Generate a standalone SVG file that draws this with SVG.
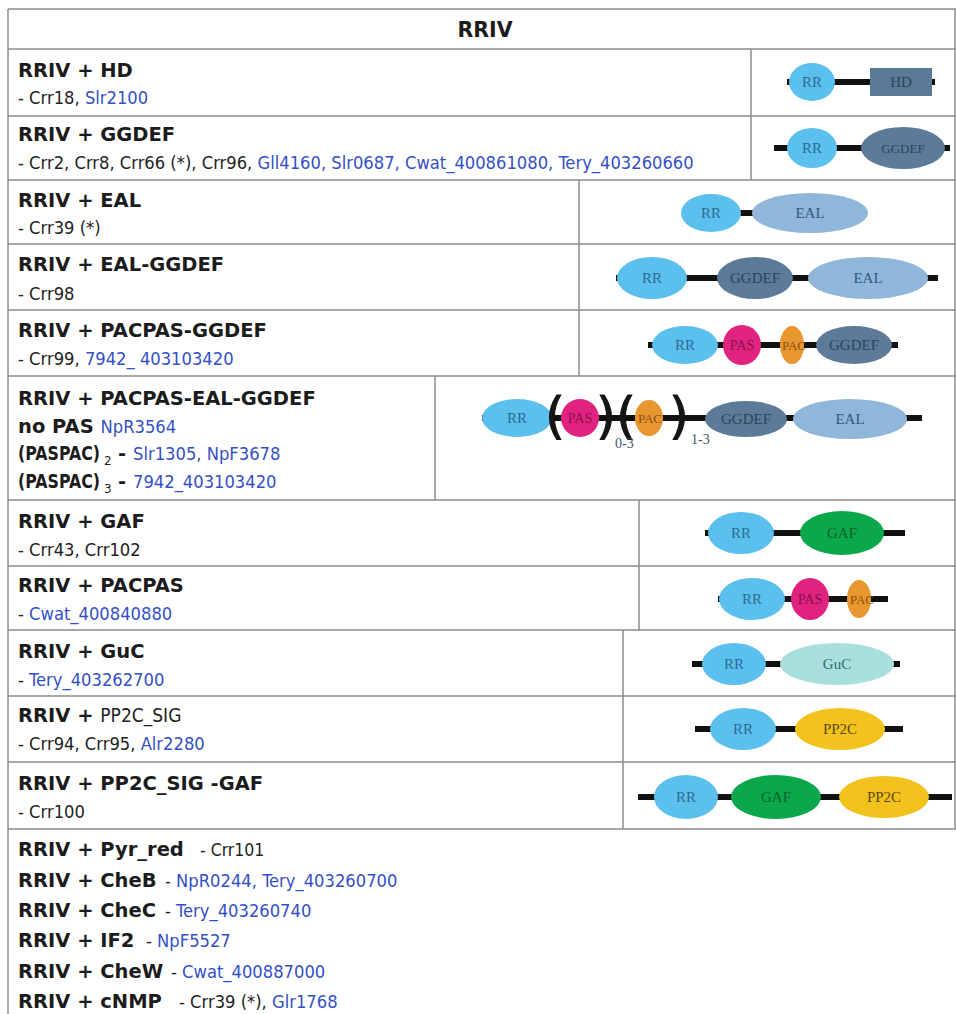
<svg xmlns="http://www.w3.org/2000/svg" width="956" height="1014" viewBox="0 0 956 1014">
<style>
.grid{stroke:#8c8c8c;stroke-width:1.5;fill:none}
.t{font-family:'DejaVu Sans',sans-serif;font-weight:bold;font-size:19.5px;fill:#1c1c1c}
.s{font-family:'DejaVu Sans Condensed','DejaVu Sans',sans-serif;font-stretch:condensed;font-size:18.2px;fill:#222;font-weight:normal}
.b{fill:#3450c6}
.bb{stroke:#111;stroke-width:6}
.d{font-family:'Liberation Serif',serif;font-size:15px;text-anchor:middle}
.rr{fill:#5cc0ee}.rrt{fill:#2a6d93}
.gg{fill:#5d7b98}.ggt{fill:#2a4460}
.ea{fill:#90b6da}.eat{fill:#2f5a7e}
.pas{fill:#e0237f}.past{fill:#8a1050}
.pac{fill:#e8962f}.pact{fill:#8a5010}
.gaf{fill:#0ba84b}.gaft{fill:#0b5f2e}
.guc{fill:#a9dfdc}.guct{fill:#2f6f78}
.pp{fill:#f4c21d}.ppt{fill:#5a4a10}
.par{font-family:'DejaVu Sans',sans-serif;font-size:50px;fill:#151515;stroke:#151515;stroke-width:1.2;text-anchor:middle}
.n{font-family:'Liberation Serif',serif;font-size:14px;fill:#3d566e}
.sub{font-family:'DejaVu Sans',sans-serif;font-size:12px;fill:#1c1c1c}
</style>
<rect x="0" y="0" width="956" height="1014" fill="#fff"/>
<g id="table">
<path class="grid" d="M8 9H956M8 9V1014M955 9V829M8 49H956M8 116H956M8 180H956M8 244H956M8 310H956M8 376H956M8 500H956M8 566H956M8 630H956M8 696H956M8 762H956M8 829H956"/>
<path class="grid" d="M751 49V180M579 180V376M435 376V500M639 500V630M623 630V829"/>
</g>
<g id="header"><text class="t" x="485" y="37" text-anchor="middle" style="font-size:20.5px">RRIV</text></g>

<g id="row-hd">
<text class="t" x="18" y="77">RRIV + HD</text>
<text class="s" x="18" y="104">- Crr18, <tspan class="b">Slr2100</tspan></text>
<line class="bb" x1="787" y1="82" x2="935" y2="82"/>
<ellipse class="rr" cx="812" cy="82" rx="23" ry="19"/>
<rect x="870" y="68" width="62" height="28" fill="#5a7a96"/>
<text class="d rrt" x="812" y="87">RR</text>
<text class="d ggt" x="901" y="87">HD</text>
</g>

<g id="row-ggdef">
<text class="t" x="18" y="141">RRIV + GGDEF</text>
<text class="s" x="18" y="169">- Crr2, Crr8, Crr66 (*), Crr96, <tspan class="b">Gll4160, Slr0687, Cwat_400861080, Tery_403260660</tspan></text>
<line class="bb" x1="774" y1="148" x2="950" y2="148"/>
<ellipse class="rr" cx="812" cy="148" rx="25" ry="20"/>
<ellipse class="gg" cx="903" cy="148" rx="42" ry="21"/>
<text class="d rrt" x="812" y="153">RR</text>
<text class="d ggt" x="903" y="153" style="font-size:13px">GGDEF</text>
</g>

<g id="row-eal">
<text class="t" x="18" y="207">RRIV + EAL</text>
<text class="s" x="18" y="234">- Crr39 (*)</text>
<line class="bb" x1="738" y1="213" x2="756" y2="213"/>
<ellipse class="rr" cx="711" cy="213" rx="30" ry="19"/>
<ellipse class="ea" cx="810" cy="213" rx="58" ry="20"/>
<text class="d rrt" x="711" y="218">RR</text>
<text class="d eat" x="810" y="218">EAL</text>
</g>

<g id="row-eal-ggdef">
<text class="t" x="18" y="271">RRIV + EAL-GGDEF</text>
<text class="s" x="18" y="300">- Crr98</text>
<line class="bb" x1="616" y1="278" x2="938" y2="278"/>
<ellipse class="rr" cx="652" cy="278" rx="35" ry="21"/>
<ellipse class="gg" cx="755" cy="278" rx="38" ry="21"/>
<ellipse class="ea" cx="868" cy="278" rx="60" ry="21"/>
<text class="d rrt" x="652" y="283">RR</text>
<text class="d ggt" x="755" y="283">GGDEF</text>
<text class="d eat" x="868" y="283">EAL</text>
</g>

<g id="row-pacpas-ggdef">
<text class="t" x="18" y="337">RRIV + PACPAS-GGDEF</text>
<text class="s" x="18" y="365">- Crr99, <tspan class="b">7942_ 403103420</tspan></text>
<line class="bb" x1="648" y1="345" x2="898" y2="345"/>
<ellipse class="rr" cx="685" cy="345" rx="33" ry="19"/>
<ellipse class="pas" cx="742" cy="345" rx="19" ry="20"/>
<ellipse class="pac" cx="792" cy="345" rx="12" ry="19"/>
<ellipse class="gg" cx="854" cy="345" rx="38" ry="19"/>
<text class="d rrt" x="685" y="350">RR</text>
<text class="d past" x="742" y="350" style="font-size:14px">PAS</text>
<text class="d pact" x="794" y="350" style="font-size:13px">PAC</text>
<text class="d ggt" x="854" y="350">GGDEF</text>
</g>

<g id="row-pacpas-eal-ggdef">
<text class="t" x="18" y="405">RRIV + PACPAS-EAL-GGDEF</text>
<text class="t" x="18" y="433">no PAS <tspan class="s b">NpR3564</tspan></text>
<text class="t" transform="translate(18 460) scale(0.81 1)">(PASPAC)</text>
<text class="sub" x="104" y="465">2</text>
<text class="t" x="118" y="460">-</text>
<text class="s b" x="133" y="460">Slr1305, NpF3678</text>
<text class="t" transform="translate(18 488) scale(0.81 1)">(PASPAC)</text>
<text class="sub" x="104" y="493">3</text>
<text class="t" x="118" y="488">-</text>
<text class="s b" x="133" y="488">7942_403103420</text>
<line class="bb" x1="482" y1="418" x2="922" y2="418"/>
<ellipse class="rr" cx="517" cy="418" rx="35" ry="19"/>
<ellipse class="pas" cx="580" cy="418" rx="19" ry="19"/>
<ellipse class="pac" cx="649" cy="418" rx="14" ry="18"/>
<ellipse class="gg" cx="746" cy="419" rx="41" ry="18"/>
<ellipse class="ea" cx="850" cy="419" rx="57" ry="20"/>
<text class="par" x="555" y="433">(</text>
<text class="par" x="606" y="433">)</text>
<text class="par" x="626" y="433">(</text>
<text class="par" x="679" y="433">)</text>
<text class="n" x="615" y="448">0-3</text>
<text class="n" x="691" y="444">1-3</text>
<text class="d rrt" x="517" y="423">RR</text>
<text class="d past" x="580" y="423" style="font-size:14px">PAS</text>
<text class="d pact" x="650" y="423" style="font-size:13px">PAC</text>
<text class="d ggt" x="746" y="424">GGDEF</text>
<text class="d eat" x="850" y="424">EAL</text>
</g>

<g id="row-gaf">
<text class="t" x="18" y="528">RRIV + GAF</text>
<text class="s" x="18" y="556">- Crr43, Crr102</text>
<line class="bb" x1="705" y1="533" x2="905" y2="533"/>
<ellipse class="rr" cx="741" cy="533" rx="33" ry="21"/>
<ellipse class="gaf" cx="842" cy="533" rx="42" ry="22"/>
<text class="d rrt" x="741" y="538">RR</text>
<text class="d gaft" x="842" y="538">GAF</text>
</g>

<g id="row-pacpas">
<text class="t" x="18" y="592">RRIV + PACPAS</text>
<text class="s" x="18" y="620">- <tspan class="b">Cwat_400840880</tspan></text>
<line class="bb" x1="718" y1="599" x2="888" y2="599"/>
<ellipse class="rr" cx="752" cy="599" rx="33" ry="21"/>
<ellipse class="pas" cx="810" cy="599" rx="19" ry="21"/>
<ellipse class="pac" cx="859" cy="599" rx="12" ry="19"/>
<text class="d rrt" x="752" y="604">RR</text>
<text class="d past" x="810" y="604" style="font-size:14px">PAS</text>
<text class="d pact" x="862" y="604" style="font-size:13px">PAC</text>
</g>

<g id="row-guc">
<text class="t" x="18" y="658">RRIV + GuC</text>
<text class="s" x="18" y="686">- <tspan class="b">Tery_403262700</tspan></text>
<line class="bb" x1="692" y1="664" x2="900" y2="664"/>
<ellipse class="rr" cx="734" cy="664" rx="32" ry="21"/>
<ellipse class="guc" cx="837" cy="664" rx="57" ry="21"/>
<text class="d rrt" x="734" y="669">RR</text>
<text class="d guct" x="837" y="669">GuC</text>
</g>

<g id="row-pp2c">
<text class="t" x="18" y="722">RRIV + <tspan class="s" style="font-size:19px">PP2C_SIG</tspan></text>
<text class="s" x="18" y="750">- Crr94, Crr95, <tspan class="b">Alr2280</tspan></text>
<line class="bb" x1="695" y1="729" x2="903" y2="729"/>
<ellipse class="rr" cx="743" cy="729" rx="33" ry="21"/>
<ellipse class="pp" cx="840" cy="729" rx="45" ry="21"/>
<text class="d rrt" x="743" y="734">RR</text>
<text class="d ppt" x="840" y="734">PP2C</text>
</g>

<g id="row-pp2c-gaf">
<text class="t" x="18" y="790">RRIV + PP2C_SIG -GAF</text>
<text class="s" x="18" y="818">- Crr100</text>
<line class="bb" x1="638" y1="797" x2="952" y2="797"/>
<ellipse class="rr" cx="686" cy="797" rx="32" ry="22"/>
<ellipse class="gaf" cx="776" cy="797" rx="45" ry="22"/>
<ellipse class="pp" cx="884" cy="797" rx="45" ry="21"/>
<text class="d rrt" x="686" y="802">RR</text>
<text class="d gaft" x="776" y="802">GAF</text>
<text class="d ppt" x="884" y="802">PP2C</text>
</g>

<g id="others">
<text class="t" x="18" y="856">RRIV + Pyr_red<tspan class="s" x="200" style="font-size:17.5px">- Crr101</tspan></text>
<text class="t" x="18" y="887">RRIV + CheB<tspan class="s" x="165">- <tspan class="b">NpR0244, Tery_403260700</tspan></tspan></text>
<text class="t" x="18" y="917">RRIV + CheC<tspan class="s" x="165">- <tspan class="b">Tery_403260740</tspan></tspan></text>
<text class="t" x="18" y="947">RRIV + IF2<tspan class="s" x="146">- <tspan class="b">NpF5527</tspan></tspan></text>
<text class="t" x="18" y="978">RRIV + CheW<tspan class="s" x="171">- <tspan class="b">Cwat_400887000</tspan></tspan></text>
<text class="t" x="18" y="1008">RRIV + cNMP<tspan class="s" x="179">- Crr39 (*), <tspan class="b">Glr1768</tspan></tspan></text>
</g>
</svg>
